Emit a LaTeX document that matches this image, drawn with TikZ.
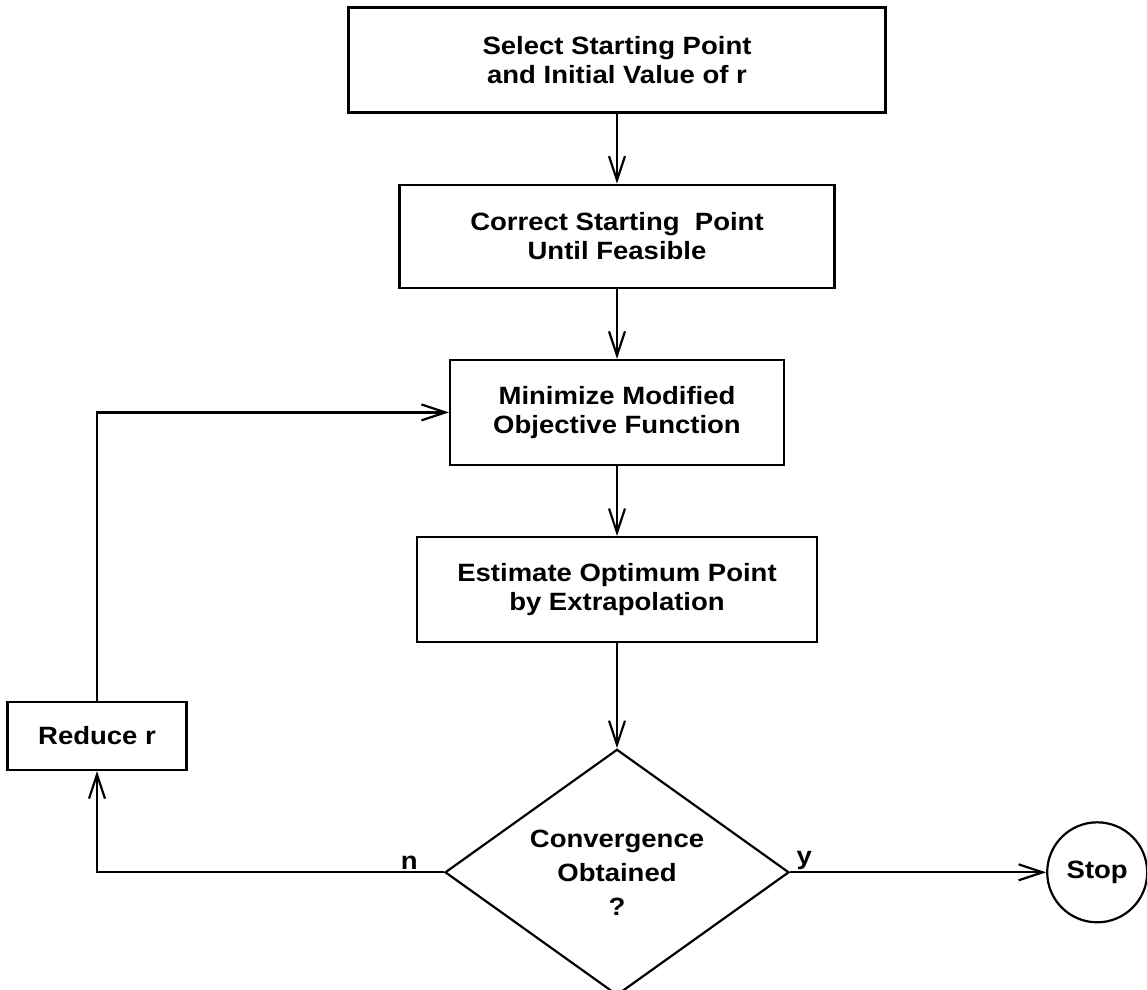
\documentclass[tikz,border=0pt]{standalone}
\usepackage{fontspec}
\setmainfont[FakeStretch=1.1]{Liberation Sans}
\usetikzlibrary{shapes.geometric,arrows.meta,positioning}

\begin{document}
\begin{tikzpicture}[x=1pt, y=-1pt, node distance=70pt, >={Straight Barb[length=24pt,width=16pt]},
    line width=2.2pt, font=\bfseries\fontsize{25}{29}\selectfont,
    block/.style={draw, align=center, minimum height=105pt, inner sep=0pt}]
    \useasboundingbox (0,0) rectangle (1147,989);

    \node[block, minimum width=537pt] (sel) at (617,60) {Select Starting Point\\and Initial Value of r};
    \node[block, minimum width=435pt, minimum height=103pt, below=of sel] (corr) {Correct Starting\ \ Point\\Until Feasible};
    \node[block, minimum width=334pt, below=of corr] (mini) {Minimize Modified\\Objective Function};
    \node[block, minimum width=400pt, below=of mini] (est) {Estimate Optimum Point\\by Extrapolation};
    \node[draw, diamond, aspect=1.4, inner sep=0pt, minimum width=344pt, minimum height=246pt, align=center, below=105pt of est] (conv) {Convergence\\[5pt]Obtained\\[5pt]?};
    \node[block, minimum width=179pt, minimum height=68pt] (reduce) at (97,736) {Reduce r};
    \node[draw, circle, minimum size=100pt, inner sep=0pt, right=256pt of conv] (stop) {Stop};

    \draw[->] (sel) -- (corr);
    \draw[->] (corr) -- (mini);
    \draw[->] (mini) -- (est);
    \draw[->] (est) -- (conv);
    \draw[->] (conv) -- node[pos=0.055, above, inner sep=2pt] {y} (stop);
    \draw[->] (conv) -| node[pos=0.05, above, inner sep=2pt] {n} (reduce);
    \draw[->] (reduce) |- (mini);
\end{tikzpicture}
\end{document}
